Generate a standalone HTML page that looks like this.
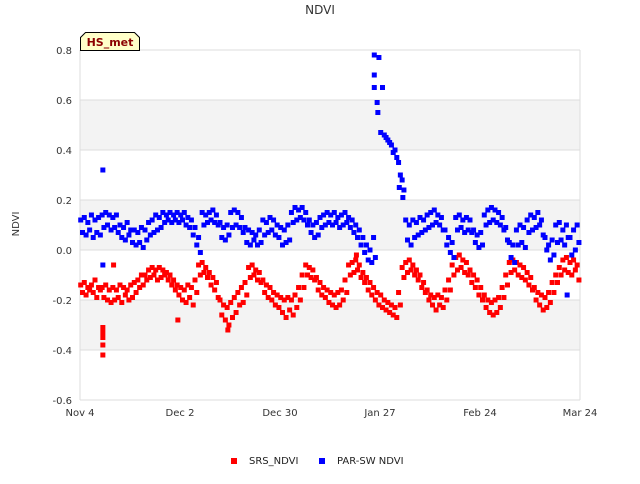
<!DOCTYPE html>
<html><head><meta charset="utf-8"><style>
body{margin:0;background:#fff;font-family:"DejaVu Sans",sans-serif}
svg text{font-family:"DejaVu Sans",sans-serif}
</style></head><body>
<svg id="chart" width="640" height="480" xmlns="http://www.w3.org/2000/svg">
<text x="320" y="14" text-anchor="middle" font-size="12" fill="#333">NDVI</text>
<text x="19" y="224" text-anchor="middle" font-size="10" fill="#333" transform="rotate(-90 19 224)">NDVI</text>
<g id="grid"></g>
<g id="srs"></g>
<g id="par"></g>
<g>
<path d="M80.5,50.5 V37.5 L85.5,32.5 H134.5 L139.5,37.5 V50.5 Z" fill="#ffffc8" stroke="#000"/>
<text x="110" y="46" text-anchor="middle" font-size="11" font-weight="bold" fill="#8b0000">HS_met</text>
</g>
<g>
<rect x="231" y="458" width="6" height="6" fill="#f00"/>
<text x="249" y="464" font-size="10" fill="#222">SRS_NDVI</text>
<rect x="319" y="458" width="6" height="6" fill="#00f"/>
<text x="337" y="464" font-size="10" fill="#222">PAR-SW NDVI</text>
</g>
</svg>
<script>
const yTicks=[0.8,0.6,0.4,0.2,0.0,-0.2,-0.4,-0.6];
const yTickLabels=["0.8","0.6","0.4","0.2","0.0","-0.2","-0.4","-0.6"];
const xTickDays=[0,28,56,84,112,140];
const xTickLabels=["Nov 4","Dec 2","Dec 30","Jan 27","Feb 24","Mar 24"];
const srsA=[-0.14,-0.13,-0.15,-0.14,-0.12,-0.15,-0.15,-0.14,-0.16,-0.15,-0.16,-0.14,-0.15,-0.16,-0.14,-0.13,-0.12,-0.10,-0.10,-0.08,-0.07,-0.08,-0.07,-0.08,-0.09,-0.10,-0.12,-0.14,-0.15,-0.16,-0.14,-0.15,-0.12,-0.06,-0.05,-0.07,-0.09,-0.11,-0.13,-0.20,-0.22,-0.23,-0.21,-0.19,-0.17,-0.15,-0.13,-0.07,-0.06,-0.08,-0.09,-0.12,-0.14,-0.15,-0.17,-0.18,-0.19,-0.20,-0.19,-0.20,-0.18,-0.15,-0.10,-0.06,-0.07,-0.08,-0.11,-0.13,-0.15,-0.16,-0.17,-0.18,-0.17,-0.16,-0.12,-0.06,-0.05,-0.04,-0.06,-0.09,-0.11,-0.13,-0.15,-0.17,-0.18,-0.20,-0.21,-0.22,-0.23,-0.17,-0.07,-0.05,-0.04,-0.06,-0.08,-0.10,-0.13,-0.16,-0.18,-0.19,-0.18,-0.19,-0.16,-0.12,-0.06,-0.03,-0.02,-0.04,-0.05,-0.08,-0.10,-0.12,-0.15,-0.18,-0.20,-0.21,-0.20,-0.19,-0.15,-0.10,-0.05,-0.04,-0.05,-0.06,-0.07,-0.09,-0.11,-0.15,-0.17,-0.18,-0.19,-0.17,-0.13,-0.10,-0.07,-0.04,-0.03,-0.05,-0.04,-0.06];
const srsB=[-0.17,-0.18,-0.16,-0.17,-0.19,-0.16,-0.19,-0.20,-0.21,-0.20,-0.19,-0.21,-0.18,-0.20,-0.19,-0.17,-0.15,-0.14,-0.12,-0.11,-0.10,-0.12,-0.11,-0.10,-0.12,-0.14,-0.16,-0.18,-0.20,-0.21,-0.19,-0.22,-0.17,-0.10,-0.09,-0.11,-0.14,-0.16,-0.19,-0.26,-0.28,-0.30,-0.27,-0.25,-0.22,-0.21,-0.18,-0.11,-0.10,-0.12,-0.13,-0.17,-0.19,-0.20,-0.22,-0.23,-0.25,-0.27,-0.24,-0.26,-0.23,-0.20,-0.15,-0.10,-0.11,-0.12,-0.16,-0.18,-0.19,-0.21,-0.22,-0.23,-0.22,-0.20,-0.17,-0.10,-0.09,-0.08,-0.11,-0.13,-0.16,-0.18,-0.20,-0.22,-0.23,-0.24,-0.25,-0.26,-0.27,-0.22,-0.11,-0.09,-0.08,-0.10,-0.12,-0.15,-0.17,-0.20,-0.22,-0.24,-0.22,-0.23,-0.20,-0.16,-0.10,-0.08,-0.07,-0.09,-0.10,-0.13,-0.15,-0.18,-0.20,-0.23,-0.25,-0.26,-0.25,-0.23,-0.19,-0.14,-0.09,-0.08,-0.10,-0.11,-0.12,-0.14,-0.16,-0.20,-0.22,-0.24,-0.23,-0.21,-0.17,-0.13,-0.10,-0.08,-0.09,-0.10,-0.08,-0.12];
const srsExtraDay=[6,6,6,6,6,9,27,41,77];
const srsExtraVal=[-0.31,-0.33,-0.35,-0.38,-0.42,-0.06,-0.28,-0.32,-0.02];
const parA=[0.12,0.13,0.11,0.14,0.12,0.13,0.14,0.15,0.14,0.13,0.14,0.10,0.09,0.11,0.08,0.08,0.07,0.09,0.08,0.11,0.12,0.14,0.13,0.15,0.14,0.15,0.14,0.15,0.14,0.15,0.13,0.12,0.09,0.05,0.15,0.14,0.15,0.16,0.14,0.11,0.09,0.10,0.15,0.16,0.15,0.13,0.09,0.08,0.07,0.06,0.08,0.12,0.11,0.13,0.12,0.10,0.09,0.08,0.10,0.15,0.17,0.16,0.17,0.15,0.12,0.10,0.11,0.13,0.14,0.15,0.14,0.15,0.13,0.14,0.15,0.13,0.12,0.10,0.08,0.05,0.02,0.00,0.05,0.59,0.47,0.46,0.44,0.42,0.40,0.35,0.28,0.12,0.10,0.12,0.11,0.13,0.12,0.14,0.15,0.16,0.14,0.13,0.08,0.05,0.03,0.13,0.14,0.12,0.13,0.12,0.08,0.06,0.07,0.14,0.16,0.17,0.16,0.15,0.13,0.09,0.03,0.02,0.08,0.10,0.09,0.12,0.14,0.13,0.15,0.12,0.05,0.02,0.04,0.10,0.11,0.08,0.10,0.05,0.08,0.10];
const parB=[0.07,0.06,0.08,0.05,0.07,0.06,0.09,0.10,0.08,0.09,0.07,0.05,0.04,0.06,0.03,0.02,0.03,0.01,0.04,0.06,0.07,0.08,0.09,0.11,0.12,0.11,0.12,0.11,0.12,0.10,0.09,0.06,0.02,-0.01,0.10,0.11,0.12,0.11,0.10,0.05,0.04,0.06,0.09,0.10,0.09,0.07,0.03,0.02,0.04,0.02,0.03,0.06,0.07,0.08,0.06,0.05,0.02,0.03,0.04,0.11,0.12,0.13,0.12,0.10,0.07,0.05,0.06,0.09,0.10,0.11,0.10,0.11,0.09,0.10,0.11,0.09,0.07,0.05,0.02,-0.01,-0.04,-0.05,-0.03,0.77,0.65,0.45,0.43,0.39,0.37,0.30,0.24,0.04,0.02,0.05,0.06,0.07,0.08,0.09,0.10,0.11,0.10,0.08,0.02,-0.01,-0.03,0.08,0.09,0.07,0.08,0.07,0.03,0.01,0.02,0.10,0.11,0.12,0.11,0.10,0.08,0.04,-0.03,-0.05,0.02,0.03,0.01,0.07,0.08,0.09,0.10,0.06,0.00,-0.04,-0.02,0.03,0.04,0.02,0.05,-0.02,0.00,0.03];
const parExtraDay=[82,82,82,83,6,6,136,89,90];
const parExtraVal=[0.78,0.70,0.65,0.55,0.32,-0.06,-0.18,0.25,0.21];

const NS="http://www.w3.org/2000/svg";
const L=80,R=580,T=50,B=400;
function xs(d){return L+(d/140)*(R-L);}
function ys(v){return T+(0.8-v)/1.4*(B-T);}
function mk(tag,attrs,parent){const e=document.createElementNS(NS,tag);for(const k in attrs)e.setAttribute(k,attrs[k]);parent.appendChild(e);return e;}
const grid=document.getElementById('grid');
const bands=[[0.6,0.4],[0.2,0.0],[-0.2,-0.4]];
bands.forEach(b=>{
  const r=mk('rect',{x:L,y:ys(b[0]),width:R-L,height:ys(b[1])-ys(b[0]),fill:'#f3f3f3'},grid);
  
  
});
yTicks.forEach((v,i)=>{
  const ln=mk('line',{x1:L,x2:R,y1:ys(v),y2:ys(v),stroke:'#ddd','stroke-width':1},grid);
  
  
  const t=mk('text',{x:72,y:ys(v)+4,'text-anchor':'end','font-size':10,fill:'#333'},grid);
  t.textContent=yTickLabels[i];
  
  
});
mk('line',{x1:L,x2:L,y1:T,y2:B,stroke:'#ddd'},grid);
mk('line',{x1:R,x2:R,y1:T,y2:B,stroke:'#ddd'},grid);
xTickDays.forEach((d,i)=>{
  const t=mk('text',{x:xs(d),y:416,'text-anchor':'middle','font-size':10,fill:'#333'},grid);
  t.textContent=xTickLabels[i];
  
  
});
function pt(g,d,v,c){
  const r=mk('rect',{x:xs(d)-2.5,y:ys(v)-2.5,width:5,height:5,fill:c},g);
  
  
}
const gs=document.getElementById('srs'),gp=document.getElementById('par');
srsA.forEach((v,d)=>pt(gs,d+0.2,v,'#f00'));
srsB.forEach((v,d)=>pt(gs,d+0.7,v,'#f00'));
srsExtraDay.forEach((d,i)=>pt(gs,d+0.4,srsExtraVal[i],'#f00'));
parA.forEach((v,d)=>pt(gp,d+0.2,v,'#00f'));
parB.forEach((v,d)=>pt(gp,d+0.7,v,'#00f'));
parExtraDay.forEach((d,i)=>pt(gp,d+0.4,parExtraVal[i],'#00f'));
</script>
</body></html>
